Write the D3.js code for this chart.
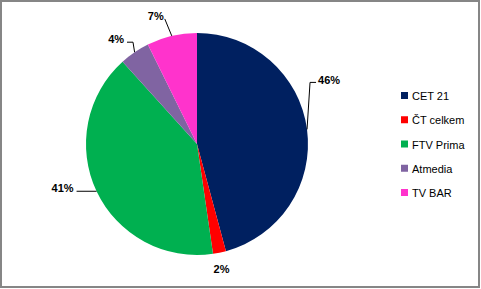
<!DOCTYPE html>
<html>
<head>
<meta charset="utf-8">
<script src="https://cdn.jsdelivr.net/npm/d3@7"></script>
<style>
  body { margin: 0; background: #fff; }
  text { font-family: "Liberation Sans", Arial, sans-serif; }
</style>
</head>
<body>
<div id="chart"></div>
<script>
const width = 481, height = 289;

// data
const categories = ["CET 21", "ČT celkem", "FTV Prima", "Atmedia", "TV BAR"];
const shares = [45.8, 1.9, 40.6, 4.4, 7.3];
const colors = ["#002060", "#ff0000", "#00b050", "#8064a2", "#ff33cc"];

// label placement, relative to the point on the rim at the slice middle
const labelLayout = [
  {path: [[3, -47], [9, -47]], text: [11, -45], anchor: "start"},
  {path: [], text: [2, 20], anchor: "middle"},
  {path: [[-20, 0]], text: [-23, 1], anchor: "end"},
  {path: [[-1.6, -10], [-7.6, -10]], text: [-10.5, -9], anchor: "end"},
  {path: [[-7, -17]], text: [-16, -16], anchor: "middle"}
];

const cx = 197, cy = 144, radius = 111;

let svg = d3.select("#chart")
  .append("svg")
  .attr("width", width)
  .attr("height", height);

svg.append("rect")
  .attr("x", 1).attr("y", 1)
  .attr("width", width - 3).attr("height", height - 3)
  .attr("fill", "#fff")
  .attr("stroke", "#868686")
  .attr("stroke-width", 2);

let data = categories.map((c, i) => ({name: c, value: shares[i], color: colors[i], layout: labelLayout[i]}));

let pie = d3.pie().sort(null).value(d => d.value);
let arc = d3.arc().innerRadius(0).outerRadius(radius);
let arcs = pie(data);

let g = svg.append("g").attr("transform", `translate(${cx},${cy})`);

g.selectAll("path.slice")
  .data(arcs)
  .enter()
  .append("path")
  .attr("class", "slice")
  .attr("d", arc)
  .attr("fill", d => d.data.color);

function rimPoint(d) {
  let a = (d.startAngle + d.endAngle) / 2;
  return [radius * Math.sin(a), -radius * Math.cos(a)];
}

// leader lines
g.selectAll("path.leader")
  .data(arcs.filter(d => d.data.layout.path.length))
  .enter()
  .append("path")
  .attr("class", "leader")
  .attr("fill", "none")
  .attr("stroke", "#000")
  .attr("stroke-width", 1)
  .attr("d", d => {
    let p = rimPoint(d);
    let pts = [p].concat(d.data.layout.path.map(o => [p[0] + o[0], p[1] + o[1]]));
    return d3.line()(pts);
  });

g.selectAll("text.pct")
  .data(arcs)
  .enter()
  .append("text")
  .attr("class", "pct")
  .attr("x", d => rimPoint(d)[0] + d.data.layout.text[0])
  .attr("y", d => rimPoint(d)[1] + d.data.layout.text[1])
  .attr("text-anchor", d => d.data.layout.anchor)
  .style("font-size", "11px")
  .style("font-weight", "bold")
  .text(d => Math.round(d.data.value) + "%");

// legend
let legendY = d3.scalePoint()
  .domain(categories)
  .range([96, 193]);

let legend = svg.append("g");

legend.selectAll("rect")
  .data(data)
  .enter()
  .append("rect")
  .attr("x", 401)
  .attr("y", d => legendY(d.name) - 4)
  .attr("width", 7)
  .attr("height", 7)
  .attr("fill", d => d.color);

legend.selectAll("text")
  .data(data)
  .enter()
  .append("text")
  .attr("x", 412)
  .attr("y", d => legendY(d.name) + 4)
  .style("font-size", "11px")
  .text(d => d.name);
</script>
</body>
</html>
